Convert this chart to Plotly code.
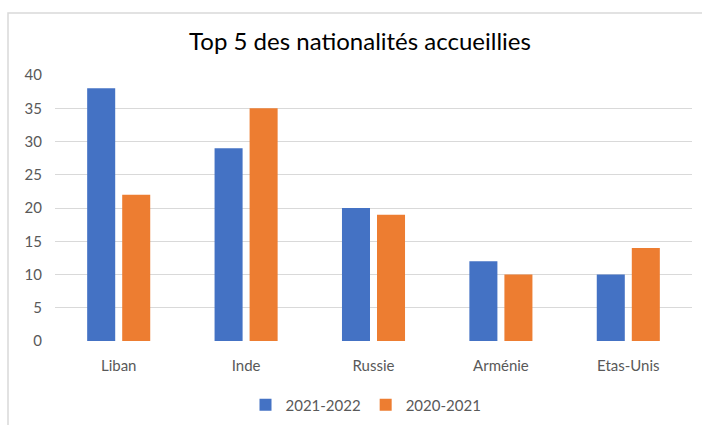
import plotly.graph_objects as go

# Top 5 nationalities welcomed, two academic years
categories = ["Liban", "Inde", "Russie", "Arménie", "Etas-Unis"]
values_2021_2022 = [38, 29, 20, 12, 10]
values_2020_2021 = [22, 35, 19, 10, 14]
series_names = ["2021-2022", "2020-2021"]
y_ticks = [0, 5, 10, 15, 20, 25, 30, 35, 40]

BLUE = "#4472C4"
ORANGE = "#ED7D31"
GRID = "#D9D9D9"
TEXT = "#595959"
FONT = "Lato, 'Open Sans', sans-serif"

fig = go.Figure()
fig.add_trace(go.Bar(x=categories, y=values_2021_2022, name=series_names[0],
                     marker=dict(color=BLUE, line=dict(width=0))))
fig.add_trace(go.Bar(x=categories, y=values_2020_2021, name=series_names[1],
                     marker=dict(color=ORANGE, line=dict(width=0))))

W, H = 702, 425
L, R, T, B = 55, 10, 75, 84
pw, ph = W - L - R, H - T - B

def px_x(x):
    return (x - L) / pw

def px_y(y):
    return (H - B - y) / ph

fig.update_layout(
    width=W, height=H,
    margin=dict(l=L, r=R, t=T, b=B, autoexpand=False),
    paper_bgcolor="white", plot_bgcolor="white",
    barmode="group", bargap=0.45, bargroupgap=0.2,
    font=dict(family=FONT, color=TEXT, size=15),
    title=dict(text="Top 5 des nationalités accueillies",
               font=dict(family=FONT, size=24, color="#000000"),
               xref="container", x=360 / W, xanchor="center",
               yref="container", y=1 - 42 / H, yanchor="middle"),
    legend=dict(orientation="h", xanchor="center", x=px_x(366),
                yanchor="middle", y=px_y(405),
                font=dict(family=FONT, size=15, color=TEXT),
                itemwidth=30, traceorder="normal"),
    xaxis=dict(showgrid=False, showline=False, zeroline=False, automargin=False,
               tickfont=dict(size=15, color=TEXT), ticks="",
               ticklabelstandoff=14),
    yaxis=dict(range=[0, 40], tickvals=y_ticks, showgrid=True, automargin=False,
               gridcolor=GRID, gridwidth=1.2, zeroline=False, showline=False,
               tickfont=dict(size=15, color=TEXT), ticklabelstandoff=12),
    shapes=[
        # chart frame
        dict(type="rect", xref="paper", yref="paper",
             x0=px_x(8), x1=px_x(W + 20), y0=px_y(H + 20), y1=px_y(13),
             line=dict(color="#D9D9D9", width=1.5), fillcolor="rgba(0,0,0,0)",
             layer="below"),
    ],
)

fig.write_html("out.html")
